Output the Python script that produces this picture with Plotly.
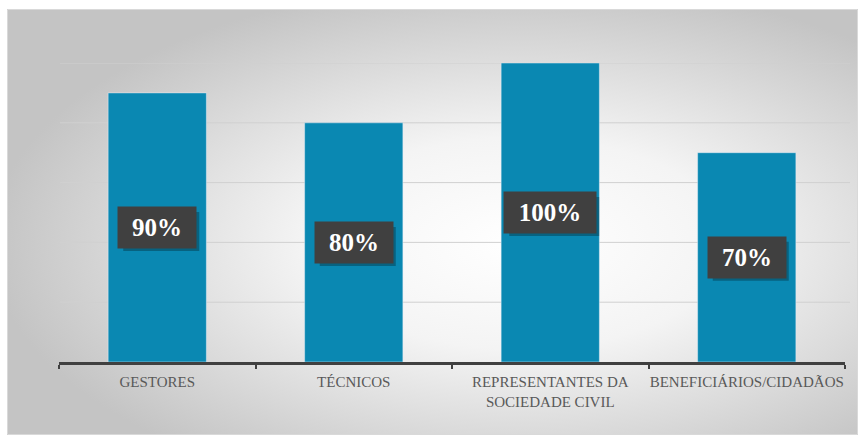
import base64
import plotly.graph_objects as go

categories = ["GESTORES", "TÉCNICOS", "REPRESENTANTES DA<br>SOCIEDADE CIVIL", "BENEFICIÁRIOS/CIDADÃOS"]
values = [90, 80, 100, 70]
labels = ["90%", "80%", "100%", "70%"]

W, H = 858, 435
ML, MR, MT, MB = 59, 13, 63, 73
pw, ph = W - ML - MR, H - MT - MB

svg = """<svg xmlns='http://www.w3.org/2000/svg' width='851' height='426' preserveAspectRatio='none'>
<defs><radialGradient id='g' cx='0.6' cy='0.55' r='0.62'>
<stop offset='0' stop-color='#ffffff'/><stop offset='0.4' stop-color='#f4f4f4'/>
<stop offset='1' stop-color='#c4c4c4'/></radialGradient></defs>
<rect width='851' height='426' fill='url(#g)'/></svg>"""
uri = "data:image/svg+xml;base64," + base64.b64encode(svg.encode()).decode()

fig = go.Figure(go.Bar(x=categories, y=values, marker_color="#0A88B2", width=0.5))

def px_x(p):
    return (p - ML) / pw

def px_y(p):
    return (H - MB - p) / ph

fig.add_layout_image(dict(source=uri, xref="paper", yref="paper",
                          x=px_x(7), y=px_y(9), sizex=851 / pw, sizey=426 / ph,
                          sizing="stretch", xanchor="left", yanchor="top", layer="below"))
fig.add_shape(type="rect", xref="paper", yref="paper",
              x0=px_x(7.5), x1=px_x(857.5), y0=px_y(434.5), y1=px_y(9.5),
              line=dict(color="#d9d9d9", width=1), layer="below")
# gridlines (extend slightly past the plot area as in the reference)
for g in [20, 40, 60, 80, 100]:
    fig.add_shape(type="line", xref="paper", yref="y", x0=px_x(60), x1=px_x(850), y0=g, y1=g,
                  line=dict(color="#d0d0d0", width=1), layer="below")

for c, v, t in zip(categories, values, labels):
    w = 76 if len(t) == 3 else 90
    fig.add_shape(type="rect", xref="x", yref="y", xsizemode="pixel", ysizemode="pixel",
                  xanchor=c, yanchor=v / 2, x0=-w / 2 + 4, x1=w / 2 + 4, y0=-19.5 - 4, y1=19.5 - 4,
                  fillcolor="rgba(0,0,0,0.28)", line_width=0, layer="above")
    fig.add_annotation(x=c, y=v / 2, text="<b>" + t + "</b>", showarrow=False,
                       bgcolor="#404040", width=w, height=39,
                       font=dict(size=25, color="white", family="Liberation Serif"))

fig.update_layout(
    width=W, height=H, margin=dict(l=ML, r=MR, t=MT, b=MB),
    paper_bgcolor="white", plot_bgcolor="rgba(0,0,0,0)",
    showlegend=False, bargap=0.5,
    font=dict(family="Liberation Serif", color="#595959", size=15),
)
fig.update_xaxes(showline=True, linecolor="#404040", linewidth=3, ticks="outside",
                 tickson="boundaries", ticklen=4, tickwidth=2, tickcolor="#404040",
                 showgrid=False, tickangle=0, automargin=False, ticklabelstandoff=4,
                 tickfont=dict(size=15, color="#595959"))
fig.update_yaxes(range=[0, 100], showticklabels=False, showgrid=False,
                 zeroline=False, showline=False, automargin=False)

fig.write_html("out.html")
